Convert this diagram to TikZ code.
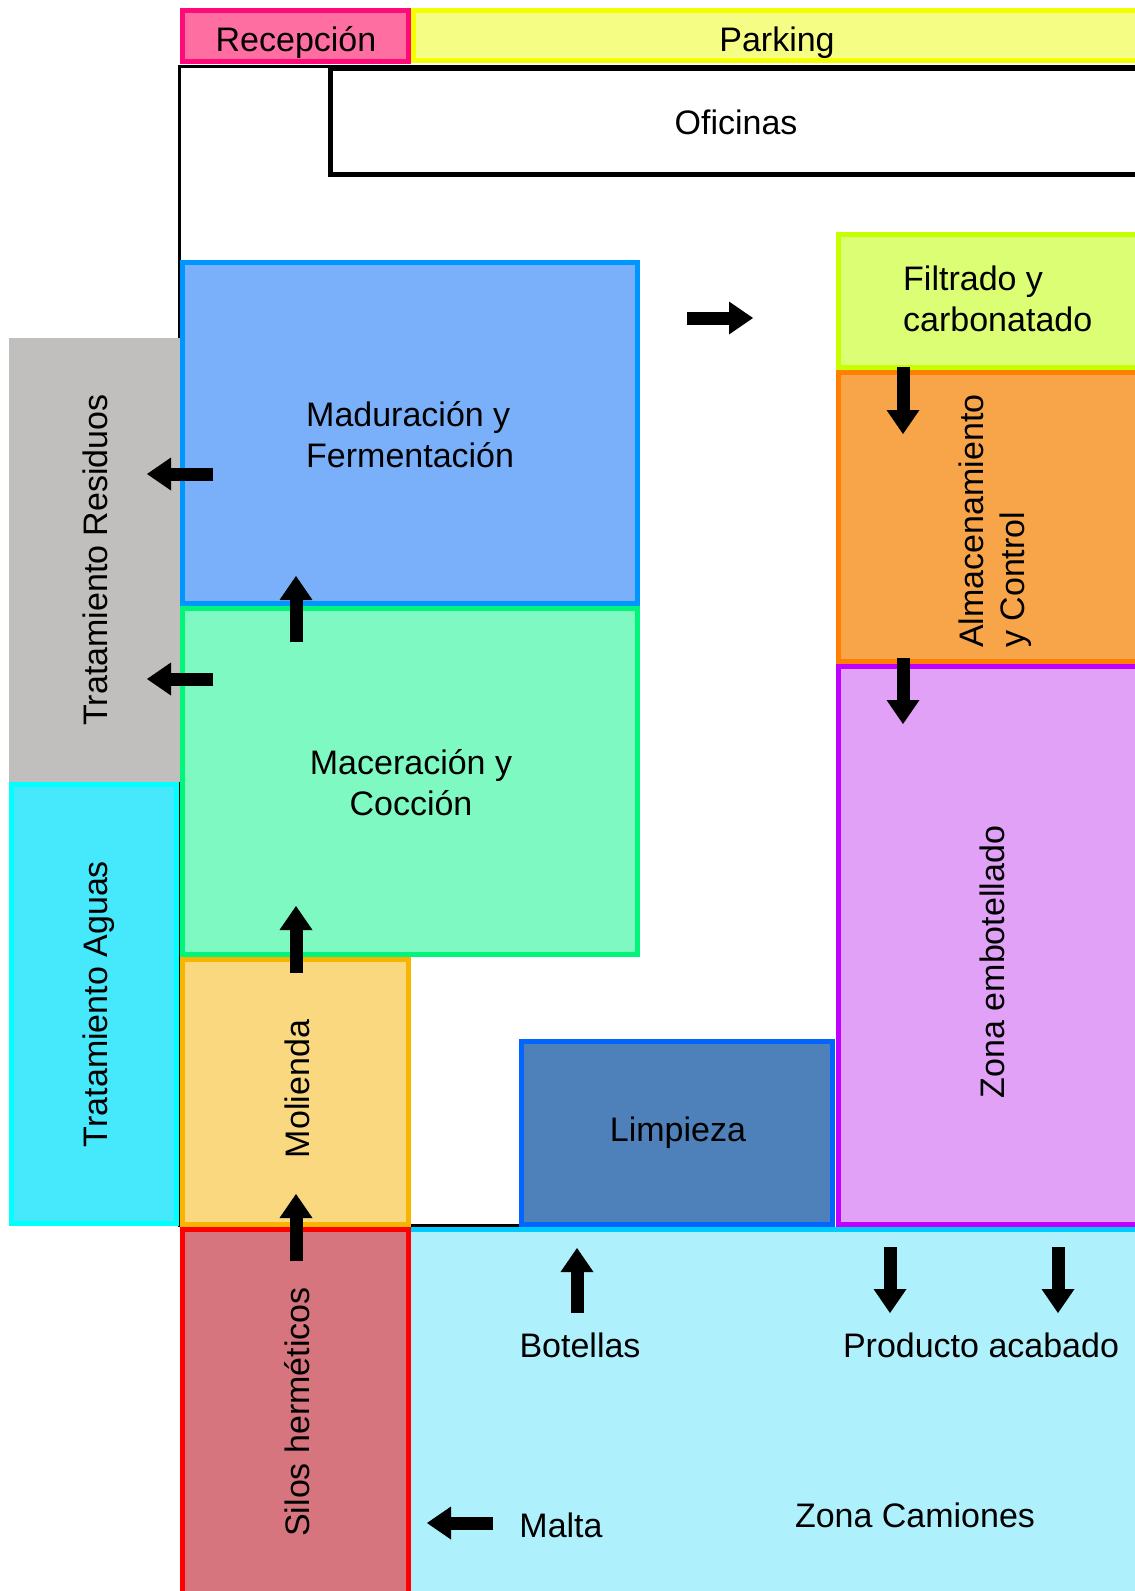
\documentclass[tikz,border=0pt]{standalone}
\usepackage{fontspec}
\setmainfont{Liberation Sans}
\usetikzlibrary{arrows.meta}

% zone colours: fill / outline
\definecolor{recfill}{HTML}{FF6EA1}\definecolor{recline}{HTML}{FF0A78}
\definecolor{parkfill}{HTML}{F6FD84}\definecolor{parkline}{HTML}{F4FF00}
\definecolor{madfill}{HTML}{7AB0F9}\definecolor{madline}{HTML}{0096FF}
\definecolor{macfill}{HTML}{7EF9C1}\definecolor{macline}{HTML}{00F57A}
\definecolor{filfill}{HTML}{DBFE74}\definecolor{filline}{HTML}{C6FF00}
\definecolor{almfill}{HTML}{F8A54A}\definecolor{almline}{HTML}{FF8000}
\definecolor{embfill}{HTML}{E0A1F6}\definecolor{embline}{HTML}{C000FF}
\definecolor{limfill}{HTML}{4E80B9}\definecolor{limline}{HTML}{0066FF}
\definecolor{molfill}{HTML}{F9D880}\definecolor{molline}{HTML}{F7B500}
\definecolor{silfill}{HTML}{D7757E}\definecolor{silline}{HTML}{FF0000}
\definecolor{camfill}{HTML}{AEF0FC}\definecolor{camline}{HTML}{00CCFF}
\definecolor{resfill}{HTML}{C0BFBE}
\definecolor{agfill}{HTML}{46E8FC}\definecolor{agline}{HTML}{00FFFF}

\begin{document}
\begin{tikzpicture}[x=1pt,y=-1pt,
  zone/.style={line width=5pt},
  lbl/.style={font=\fontsize{34}{41}\selectfont, inner sep=0pt, text=black},
  vlbl/.style={lbl, rotate=90},
  flow/.style={line width=13pt, -{Triangle[width=33pt,length=24pt,line width=0pt]}},
]
\useasboundingbox (0,0) rectangle (1135,1591);
\clip (0,0) rectangle (1135,1591);

% plant outline
\draw[line width=3pt] (1145,66.5) -- (179.5,66.5) -- (179.5,1225) -- (519,1225);

% top strip
\draw[zone, draw=recline, fill=recfill] (182.5,10.5) rectangle (408.5,61.5);
\draw[zone, draw=parkline, fill=parkfill] (413.5,10.5) rectangle (1145,60.5);
\draw[zone, draw=black, fill=white] (330.5,68.5) rectangle (1145,174.5);

% treatment strip on the left
\fill[resfill] (9,338) rectangle (180,782);
\draw[zone, draw=agline, fill=agfill] (11.5,784.5) rectangle (176.5,1223.5);

% process column
\draw[zone, draw=madline, fill=madfill] (182.5,262.5) rectangle (637.5,603.5);
\draw[zone, draw=macline, fill=macfill] (182.5,608.5) rectangle (637.5,954.5);
\draw[zone, draw=molline, fill=molfill] (182.5,959.5) rectangle (408.5,1224.5);

% right column
\draw[zone, draw=filline, fill=filfill] (838.5,234.5) rectangle (1145,367.5);
\draw[zone, draw=almline, fill=almfill] (838.5,372.5) rectangle (1145,661.5);
\draw[zone, draw=embline, fill=embfill] (838.5,666.5) rectangle (1145,1224.5);
\draw[zone, draw=limline, fill=limfill] (521.5,1041.5) rectangle (832.5,1224.5);

% loading area
\fill[camfill] (411,1227) rectangle (1145,1600);
\draw[zone, draw=camline] (411,1229.5) -- (1145,1229.5);
\draw[zone, draw=silline, fill=silfill] (182.5,1229.5) rectangle (408.5,1600);

% labels (multi-line labels are placed by the baseline of their last line)
\node[lbl, anchor=base] (recepcion) at (296,51) {Recepción};
\node[lbl, anchor=base] (parking) at (777,51) {Parking};
\node[lbl, anchor=base] (oficinas) at (736,134) {Oficinas};
\node[lbl, anchor=base west, align=left] (filtrado) at (903,331) {Filtrado y\\carbonatado};
\node[lbl, anchor=base west, align=left] (maduracion) at (306,467) {Maduración y\\Fermentación};
\node[lbl, anchor=base, align=center] (maceracion) at (411,815) {Maceración y\\Cocción};
\node[lbl, anchor=base] (limpieza) at (678,1141) {Limpieza};
\node[lbl, anchor=base] (botellas) at (580,1357) {Botellas};
\node[lbl, anchor=base] (producto) at (981,1357) {Producto acabado};
\node[lbl, anchor=base] (malta) at (561,1537) {Malta};
\node[lbl, anchor=base] (camiones) at (915,1527) {Zona Camiones};

\node[vlbl, anchor=base] (residuos) at (107,560) {Tratamiento Residuos};
\node[vlbl, anchor=base] (aguas) at (107,1004) {Tratamiento Aguas};
\node[vlbl, anchor=base] (molienda) at (309,1089) {Molienda};
\node[vlbl, anchor=base] (silos) at (309,1412) {Silos herméticos};
\node[vlbl, anchor=base] (embotellado) at (1004,962) {Zona embotellado};
\node[vlbl, anchor=base west, align=left] (almacen) at (1024,648) {Almacenamiento\\y Control};

% flow arrow end points
\coordinate (f1a) at (687,318);  \coordinate (f1b) at (753,318);
\coordinate (r1a) at (213,474);  \coordinate (r1b) at (147,474);
\coordinate (r2a) at (213,679);  \coordinate (r2b) at (147,679);
\coordinate (u1a) at (296,642);  \coordinate (u1b) at (296,576);
\coordinate (u2a) at (296,973);  \coordinate (u2b) at (296,906);
\coordinate (u3a) at (296,1261); \coordinate (u3b) at (296,1194);
\coordinate (ba) at (577,1313);  \coordinate (bb) at (577,1248);
\coordinate (p1a) at (890,1247); \coordinate (p1b) at (890,1313);
\coordinate (p2a) at (1058,1247);\coordinate (p2b) at (1058,1313);
\coordinate (d1a) at (903,367);  \coordinate (d1b) at (903,434);
\coordinate (d2a) at (903,658);  \coordinate (d2b) at (903,724);
\coordinate (ma) at (493,1523);  \coordinate (mb) at (427,1523);

\draw[flow] (f1a) -- (f1b);
\draw[flow] (r1a) -- (r1b);
\draw[flow] (r2a) -- (r2b);
\draw[flow] (u1a) -- (u1b);
\draw[flow] (u2a) -- (u2b);
\draw[flow] (u3a) -- (u3b);
\draw[flow] (ba) -- (bb);
\draw[flow] (p1a) -- (p1b);
\draw[flow] (p2a) -- (p2b);
\draw[flow] (d1a) -- (d1b);
\draw[flow] (d2a) -- (d2b);
\draw[flow] (ma) -- (mb);
\end{tikzpicture}
\end{document}
